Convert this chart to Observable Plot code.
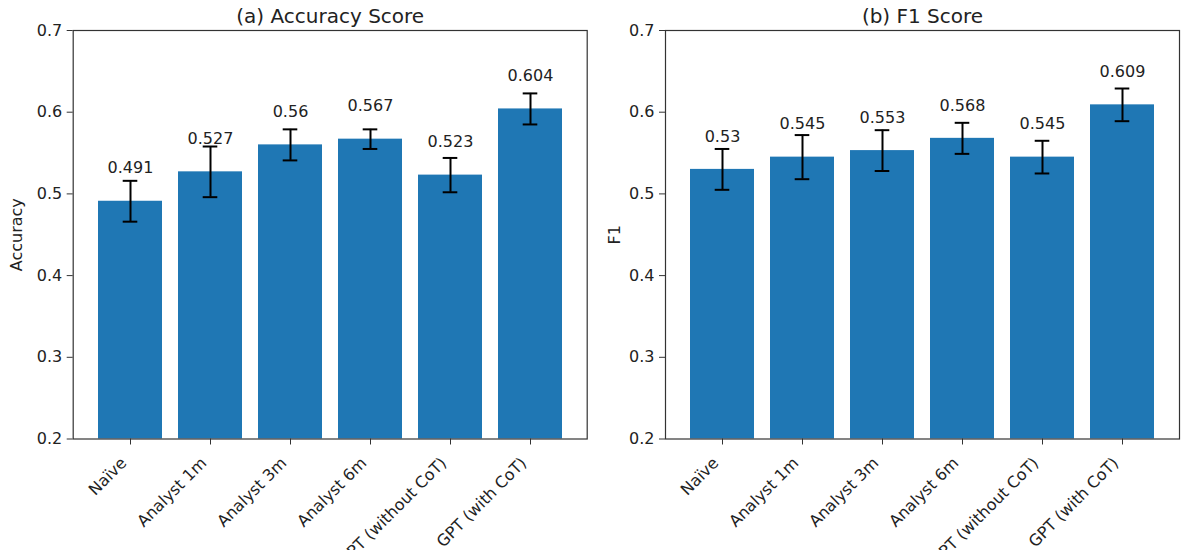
<!DOCTYPE html>
<html>
<head>
<meta charset="utf-8">
<script src="https://cdn.jsdelivr.net/npm/d3@7"></script>
<script src="https://cdn.jsdelivr.net/npm/@observablehq/plot@0.6"></script>
<style>
  html, body { margin: 0; padding: 0; background: #fff; }
  #wrap { display: flex; width: 1200px; height: 550px; overflow: hidden; }
  #wrap svg { overflow: visible; }
</style>
</head>
<body>
<div id="wrap"></div>
<script>
const categories = ["Naïve", "Analyst 1m", "Analyst 3m", "Analyst 6m", "GPT (without CoT)", "GPT (with CoT)"];
const accuracy = [0.491, 0.527, 0.56, 0.567, 0.523, 0.604];
const accuracyErr = [0.025, 0.031, 0.019, 0.012, 0.021, 0.019];
const f1 = [0.53, 0.545, 0.553, 0.568, 0.545, 0.609];
const f1Err = [0.025, 0.027, 0.025, 0.019, 0.020, 0.020];
const yTicks = [0.2, 0.3, 0.4, 0.5, 0.6, 0.7];

const INK = "#222";
const BLUE = "#1f77b4";

function panel({title, yLabel, values, errs, marginLeft, marginRight, labelDx}) {
  const data = categories.map((c, i) => ({cat: c, value: values[i], err: errs[i]}));
  return Plot.plot({
    width: 600,
    height: 550,
    marginTop: 30,
    marginBottom: 111.5,
    marginLeft,
    marginRight,
    style: {fontFamily: "DejaVu Sans", fontSize: "16px", color: INK, background: "white"},
    x: {domain: categories, paddingInner: 0.2, paddingOuter: 0.29, align: 0.5, axis: null},
    y: {domain: [0.2, 0.7], axis: null},
    marks: [
      Plot.barY(data, {x: "cat", y: "value", fill: BLUE, clip: true}),
      Plot.ruleX(data, {x: "cat", y1: d => d.value - d.err, y2: d => d.value + d.err, stroke: "black", strokeWidth: 2}),
      Plot.tickY(data, {x: "cat", y: d => d.value - d.err, stroke: "black", strokeWidth: 2, insetLeft: 24.7, insetRight: 24.7}),
      Plot.tickY(data, {x: "cat", y: d => d.value + d.err, stroke: "black", strokeWidth: 2, insetLeft: 24.7, insetRight: 24.7}),
      Plot.text(data, {x: "cat", y: d => d.value + 0.034, text: d => String(d.value), lineAnchor: "bottom", textAnchor: "middle", fill: INK, fontSize: 16}),
      Plot.frame({stroke: "#333", strokeWidth: 1.2}),
      Plot.axisY({ticks: yTicks, tickFormat: d3.format(".1f"), tickSize: 6, tickPadding: 5, label: null, fontSize: 16, fill: INK, stroke: "#333"}),
      Plot.axisX({tickSize: 6, tickFormat: () => "", label: null, stroke: "#333"}),
      Plot.text(categories, {x: d => d, frameAnchor: "bottom", rotate: -45, textAnchor: "end", lineAnchor: "bottom", dx: -3, dy: 25, fill: INK, fontSize: 16}),
      Plot.text([yLabel], {frameAnchor: "left", rotate: -90, textAnchor: "middle", lineAnchor: "bottom", dx: labelDx, fill: INK, fontSize: 16}),
      Plot.text([title], {frameAnchor: "top", textAnchor: "middle", lineAnchor: "bottom", dy: -8, fill: INK, fontSize: 20})
    ]
  });
}

const wrap = document.getElementById("wrap");
wrap.appendChild(panel({title: "(a) Accuracy Score", yLabel: "Accuracy", values: accuracy, errs: accuracyErr, marginLeft: 72.7, marginRight: 13.3, labelDx: -50.7}));
wrap.appendChild(panel({title: "(b) F1 Score", yLabel: "F1", values: f1, errs: f1Err, marginLeft: 65, marginRight: 21, labelDx: -45.7}));
</script>
</body>
</html>
